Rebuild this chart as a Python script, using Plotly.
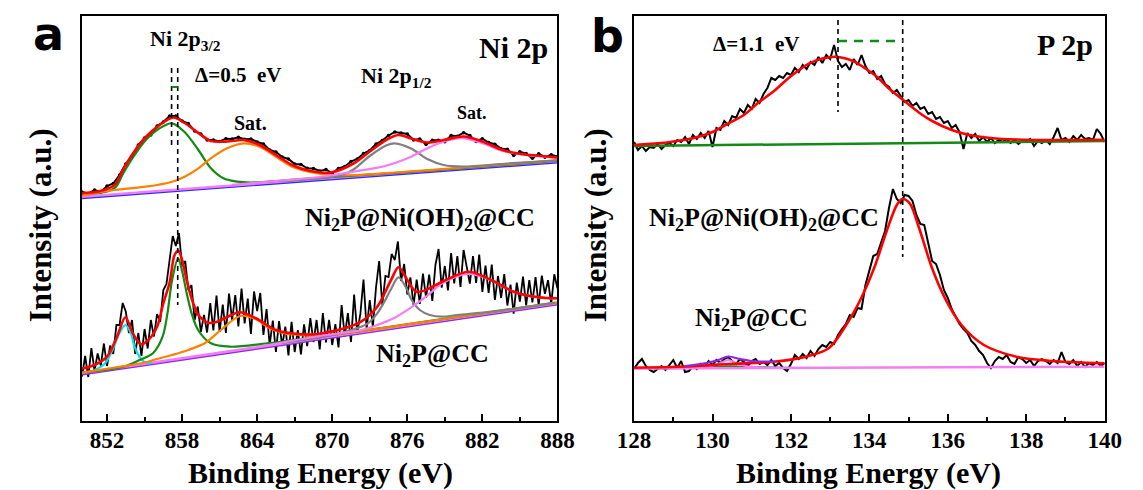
import plotly.graph_objects as go

W, H = 1143, 490
SERIF = "Liberation Serif, Times New Roman, serif"
SANS = "DejaVu Sans, Lato, sans-serif"

# ---------------- Panel a : Ni 2p ----------------
# upper spectrum (Ni2P@Ni(OH)2@CC), raw counts every 0.5 eV from 850 eV
a_up_start, a_up_step = 850.0, 0.5
a_up_data = [229, 227.5, 231, 229, 235, 237.5, 246, 257, 265, 276,
             283, 286, 295, 299, 305, 305, 300, 297.5, 290, 287,
             281, 281, 279.5, 282.3, 282, 283.7, 281.8, 282, 279, 277,
             271, 269, 264, 262, 257, 256.5, 252.7, 252.5, 250, 251.5,
             247.6, 252.5, 254.5, 259.5, 262, 267.5, 270.5, 277, 280.5, 285.5,
             289, 288, 287, 281, 282, 276.5, 280.7, 280.8, 279.2, 285.5,
             284.7, 288.3, 285.5, 279.5, 282.3, 278.5, 276.8, 272.3, 271.8, 265.5,
             269.2, 267.4, 262.7, 267.2, 263.8, 266.2, 264.6]
a_up_env_E = [850, 851.3, 852.6, 853.3, 854.1, 855.1, 856.2, 857.3, 858.2, 859.3, 860.3,
              861.6, 862.9, 864.2, 865.5, 866.8, 868.1, 869.9, 871.7, 873.0, 874.3,
              875.3, 876.3, 877.6, 878.9, 880.5, 882.0, 883.6, 885.1, 886.7, 888]
a_up_env = [228, 229.5, 236, 252, 268, 284, 296, 303.5, 298, 288, 280,
            279.5, 281, 276, 266, 256, 250.5, 248.5, 257.5, 269.5, 281,
            286, 282.5, 278.5, 281, 284.5, 279.5, 271, 267, 265, 263.5]
a_up_p32_E = [850, 851, 852, 852.7, 853.3, 854.1, 855.1, 856.2, 857.2, 858.2, 859.3,
              860.3, 861.3, 862.4, 863.5, 866, 870, 875, 880, 888]
a_up_p32 = [226, 227.5, 229.5, 234, 247.7, 264, 281, 292.7, 297.7, 289, 271,
            252.7, 242.7, 239.3, 238.5, 240.5, 244, 248, 252.5, 260.3]
a_up_sat1_E = [850, 852.6, 855.1, 857.2, 858.2, 859.3, 860.3, 861.6, 862.9, 864.2,
               865.5, 866.8, 868.1, 869.9, 872, 875, 880, 888]
a_up_sat1 = [225.5, 231, 234.3, 239.3, 244.3, 252.7, 262.7, 272.7, 277.7, 274.3,
             264.3, 254.3, 249.3, 246, 246, 248.5, 253, 260.8]
a_up_p12_E = [866, 868, 870, 871, 871.7, 873, 874.3, 875.0, 876.3, 877.6, 878.9, 880.5, 884, 888]
a_up_p12 = [239.5, 241.5, 244, 247, 251.5, 265, 275.5, 277.7, 272.5, 262, 256, 254.5, 257.5, 260.5]
a_up_sat2_E = [862, 866, 869, 871.7, 874.3, 876.3, 877.6, 878.9, 880.5, 882.0, 883.6, 885.1, 886.7, 888]
a_up_sat2 = [236.2, 240.5, 244, 249.3, 255.3, 264.3, 272.7, 279.3, 282.7, 277.7, 270.3, 266.7, 264.7, 263.3]
a_up_bg_E = [850, 888]
a_up_bg = [224.3, 260]

# lower spectrum (Ni2P@CC), raw counts every 0.25 eV from 850 eV
a_lo_start, a_lo_step = 850.0, 0.25
a_lo_data = [44.5, 65, 44, 73, 50, 67.5, 55.5, 77.5, 55, 75.5,
             67, 96, 96, 118, 109.5, 88, 101, 67, 88, 65,
             92, 72.5, 101, 84.5, 107, 99, 131, 137, 161, 185,
             175, 188, 155, 160, 131, 136, 101, 114.5, 89, 106,
             88.5, 118, 90.5, 125.5, 89, 116.5, 88, 127.5, 101, 126,
             94.5, 132.5, 97.5, 122.5, 87, 129.5, 110, 128, 86, 112,
             76, 100.5, 69, 100, 75, 94.3, 65.7, 99.2, 69, 90.8,
             66.7, 96.7, 74.8, 102.9, 79, 101, 71.5, 108, 78.6, 101.2,
             76, 96.8, 73.5, 116, 84.7, 107.8, 79, 126.5, 88, 107.3,
             141.5, 92, 121, 94, 133.5, 160, 116, 145, 144, 167,
             161, 179.5, 140, 157, 126.5, 143.5, 115.5, 141.3, 117, 147.5,
             123, 146.5, 120, 156, 172, 133.3, 155, 130.5, 168, 137.5,
             165, 134, 171, 155.3, 137.3, 165, 138, 166.5, 129, 155.5,
             128, 156.5, 121, 145, 123, 147, 115.5, 136.3, 107.3, 138.3,
             119.3, 144.5, 115.7, 141, 118.5, 144, 115.7, 145.4, 127.1, 140.9,
             116.8, 146.7, 132.7]
a_lo_env_E = [850, 851.0, 852.0, 852.8, 853.47, 854.06, 854.7, 855.3, 856.0, 856.5, 857.0,
              857.4, 857.7, 858.0, 858.4, 858.8, 859.3, 860.1, 860.8, 861.6, 862.6, 863.9,
              865.5, 867.5, 868.8, 871.0, 872.3, 873.6, 874.7, 875.3, 876.0, 876.7, 877.5,
              878.8, 880.9, 882.7, 884.5, 886.5, 888]
a_lo_env = [52.5, 56, 64.3, 84.3, 103.7, 87.7, 76.7, 81, 94.3, 117.7, 138.3,
            166, 170.3, 161, 139.3, 121, 106, 98.3, 99.3, 104, 108.7, 102.7,
            91, 86.7, 87, 92.7, 99.3, 114.3, 141, 153.7, 141, 129.3, 131,
            139.3, 149.3, 141, 129.3, 123.7, 122.7]
a_lo_met_E = [851.0, 851.8, 852.55, 853.0, 853.47, 853.9, 854.2, 854.6, 855.0, 855.6]
a_lo_met = [51, 57, 74.3, 88, 96, 88, 74.3, 64, 59, 58.5]
a_lo_p32_E = [850, 853.3, 854.6, 855.67, 856.44, 856.83, 857.2, 857.68, 858.0, 858.37,
              858.76, 859.28, 860.3, 861.85, 865, 870, 875, 880, 888]
a_lo_p32 = [48.5, 54.3, 61, 67.7, 84.3, 107.7, 141, 162.7, 150, 127.7,
            107.7, 91, 77.7, 74.3, 78, 86, 95, 104, 118.5]
a_lo_sat1_E = [850, 855.0, 855.7, 857.2, 858.5, 859.8, 861.1, 862.64, 863.9, 865.0,
               866.2, 867.5, 868.8, 872, 880, 888]
a_lo_sat1 = [48.5, 58.5, 61, 66, 71, 77.7, 91, 105, 101.7, 92.7,
             87.7, 86, 85, 89.5, 104, 118.5]
a_lo_p12_E = [866, 869, 871.04, 872.3, 872.85, 873.6, 874.1, 874.66, 875.3, 875.96,
              876.3, 877.0, 877.8, 878.8, 880, 882.7, 885.3, 887.8]
a_lo_p12 = [78, 83.5, 89.3, 94.3, 97.7, 107.7, 117.7, 131, 143.7, 132,
            122, 111, 106, 104.3, 106, 109.3, 113.7, 118.3]
a_lo_sat2_E = [864, 866, 869, 872.3, 873.6, 874.9, 876.2, 877.5, 878.8, 880.86,
               882.7, 884.5, 886.5, 888]
a_lo_sat2 = [74, 78.5, 85, 91, 96, 102.7, 112.7, 124.3, 137.7, 147,
             141, 129.3, 123.7, 122.7]
a_lo_bg_E = [850, 888]
a_lo_bg = [48, 118]

a_peak_E = [857.16, 857.65]   # Ni 2p3/2 positions (shift 0.5 eV)

# ---------------- Panel b : P 2p ----------------
b_start, b_step = 128.0, 0.1
b_up_data = [279, 271, 275, 270, 274, 273, 277, 272, 276, 278,
             275, 281, 279, 284, 277, 286, 282, 288, 283, 290,
             274, 293, 291, 300, 296, 305, 303, 312, 308, 316,
             312, 322, 318, 327, 333, 343, 341, 345, 343, 348,
             346, 353, 349, 356, 352, 359, 356, 364, 358, 366,
             362, 376, 360, 354, 357, 351, 362, 356, 366, 355,
             348, 350, 342, 345, 337, 334, 328, 331, 325, 319,
             321, 315, 318, 312, 314, 307, 309, 302, 304, 298,
             300, 293, 296, 289, 272, 288, 283, 287, 280, 284,
             279, 283, 278, 281, 279, 282, 278, 281, 277, 280,
             279, 282, 275, 280, 278, 281, 277, 284, 293, 281,
             283, 279, 285, 281, 286, 282, 283, 281, 292, 287,
             279]
b_up_env_E = [128, 128.7, 129.0, 129.5, 130.0, 130.33, 130.8, 131.15, 131.6, 131.98,
              132.47, 132.8, 133.13, 133.4, 133.62, 133.9, 134.2, 134.45, 134.86, 135.27,
              135.6, 136.1, 136.5, 136.92, 137.3, 138.16, 139, 140]
b_up_env = [276, 278, 279.5, 282.7, 289, 296, 306, 317.7, 331, 344.3,
            357.7, 362.5, 364.3, 362.5, 359.3, 352.5, 344, 334.3, 321, 308.3,
            300, 291, 286.5, 283.7, 282.3, 281, 281, 281.3]
b_up_bg_E = [128, 140]
b_up_bg = [275, 280]

b_lo_data = [52, 58, 62, 55, 51, 49, 52, 55, 51, 56,
             61, 53, 60, 49, 50, 55, 52, 57, 54, 60,
             56, 61, 58, 62, 64, 60, 57, 62, 59, 55,
             60, 62, 57, 59, 56, 61, 55, 58, 53, 50,
             57, 66, 62, 67, 63, 70, 65, 72, 76, 74,
             79, 77, 86, 92, 97, 106, 104, 113, 112, 136,
             150, 165, 167, 178, 190, 213, 232, 222, 218, 226,
             225, 220, 206, 197, 196, 178, 160, 157, 146, 131,
             123, 112, 104, 97, 92, 88, 80, 76, 70, 66,
             58, 53, 60, 64, 62, 66, 59, 57, 64, 62,
             58, 61, 55, 60, 62, 60, 57, 61, 58, 69,
             59, 57, 61, 55, 59, 54, 58, 56, 59, 55,
             58]
b_lo_env_E = [128, 129.5, 130.4, 131.56, 132.39, 132.96, 133.46, 133.79, 134.12, 134.45,
              134.7, 134.84, 135.03, 135.27, 135.6, 135.93, 136.35, 136.92, 137.75, 138.57, 140]
b_lo_env = [53.3, 54.8, 57, 59.3, 64.3, 72.7, 99.3, 122.7, 152.7, 191,
            216, 222, 217.7, 192.7, 152.7, 122.7, 96, 76, 64.3, 60.3, 57.7]
b_lo_sum_E = [129.3, 129.9, 130.15, 130.4, 130.7, 131.0, 131.3, 131.6]
b_lo_sum = [54.8, 58.5, 61, 64.5, 62, 60, 59.5, 59.5]
b_lo_c1_E = [129.5, 129.95, 130.2, 130.4, 130.6, 130.85, 131.3]
b_lo_c1 = [53.2, 55, 58, 61, 58, 55, 53.5]
b_lo_c2_E = [128.5, 129.3, 129.9, 130.4, 130.9, 131.5, 132.2]
b_lo_c2 = [52.7, 53.2, 54, 54.6, 54, 53.3, 53]
b_lo_bg_E = [128, 140]
b_lo_bg = [52.5, 54.3]

b_peak_E = [133.2, 134.85]   # P 2p positions (shift 1.1 eV)

# ---------------- colours ----------------
RED, GREEN, ORANGE, GREY = "#ff0000", "#138a13", "#ff8000", "#808080"
PINK, CYAN, BLUE, PURPLE = "#f47cf4", "#00e3ef", "#2a2aff", "#8a2be2"

fig = go.Figure()


def line(x, y, color, width, xa="x", ya="y", shape="spline", dash=None, mode="lines", msize=0):
    fig.add_trace(go.Scatter(
        x=x, y=y, mode=mode, xaxis=xa, yaxis=ya, hoverinfo="skip",
        line=dict(color=color, width=width, shape=shape, smoothing=0.9, dash=dash),
        marker=dict(size=msize, color=color)))


def grid(start, step, n):
    return [round(start + step * i, 3) for i in range(n)]


# ---- panel a, upper ----
line(grid(a_up_start, a_up_step, len(a_up_data)), a_up_data, "black", 2, shape="linear",
     mode="lines+markers", msize=3.5)
line(a_up_bg_E, [v - 1.2 for v in a_up_bg], BLUE, 2.5, shape="linear")
line(a_up_bg_E, a_up_bg, PINK, 2.5, shape="linear")
line(a_up_p32_E, a_up_p32, GREEN, 2.2)
line(a_up_sat1_E, a_up_sat1, ORANGE, 2.2)
line(a_up_p12_E, a_up_p12, GREY, 2.2)
line(a_up_sat2_E, a_up_sat2, PINK, 2.2)
line(a_up_env_E, a_up_env, RED, 2.6)

# ---- panel a, lower ----
line(grid(a_lo_start, a_lo_step, len(a_lo_data)), a_lo_data, "black", 1.8, shape="linear")
line(a_lo_bg_E, [v - 1.3 for v in a_lo_bg], PURPLE, 2.5, shape="linear")
line(a_lo_bg_E, a_lo_bg, PINK, 2.5, shape="linear")
line(a_lo_met_E, a_lo_met, CYAN, 2.2)
line(a_lo_p32_E, a_lo_p32, GREEN, 2.2)
line(a_lo_sat1_E, a_lo_sat1, ORANGE, 2.2)
line(a_lo_p12_E, a_lo_p12, GREY, 2.2)
line(a_lo_sat2_E, a_lo_sat2, PINK, 2.2)
line(a_lo_env_E, a_lo_env, RED, 2.6)

# ---- panel a, peak markers ----
line([a_peak_E[0], a_peak_E[0]], [353, 273], "black", 1.6, shape="linear", dash="5px,4px")
line([a_peak_E[1], a_peak_E[1]], [353, 116], "black", 1.6, shape="linear", dash="5px,4px")
line(a_peak_E, [334, 334], GREEN, 2, shape="linear")

# ---- panel b, upper ----
line(grid(b_start, b_step, len(b_up_data)), b_up_data, "black", 2, "x2", "y2", shape="linear")
line(b_up_bg_E, b_up_bg, GREEN, 2.5, "x2", "y2", shape="linear")
line(b_up_env_E, b_up_env, RED, 2.6, "x2", "y2")

# ---- panel b, lower ----
line(grid(b_start, b_step, len(b_lo_data)), b_lo_data, "black", 2, "x2", "y2", shape="linear")
line(b_lo_c2_E, b_lo_c2, GREEN, 2.2, "x2", "y2")
line(b_lo_bg_E, b_lo_bg, PINK, 2.5, "x2", "y2", shape="linear")
line(b_lo_c1_E, b_lo_c1, PINK, 2.2, "x2", "y2")
line(b_lo_env_E, b_lo_env, RED, 2.6, "x2", "y2")
line(b_lo_sum_E, b_lo_sum, PURPLE, 2.2, "x2", "y2")

# ---- panel b, peak markers ----
line([b_peak_E[0], b_peak_E[0]], [401, 309], "black", 1.6, "x2", "y2", shape="linear", dash="5px,4px")
line([b_peak_E[1], b_peak_E[1]], [401, 164], "black", 1.6, "x2", "y2", shape="linear", dash="5px,4px")
line(b_peak_E, [380, 380], GREEN, 2.6, "x2", "y2", shape="linear", dash="9px,7px")

# ---------------- axes ----------------
tickfont = dict(family=SERIF, size=23, color="black", weight="bold")
common_x = dict(ticks="inside", ticklen=7, tickwidth=2, tickcolor="black",
                showline=True, linewidth=2, linecolor="black", mirror=True,
                showgrid=False, zeroline=False, tickfont=tickfont, tickmode="linear",
                ticklabelstandoff=-3)
common_y = dict(range=[0, 405], domain=[1 - 421 / H, 1 - 16 / H], showticklabels=False,
                ticks="", showline=True, linewidth=2, linecolor="black", mirror=True,
                showgrid=False, zeroline=False)

fig.update_layout(
    width=W, height=H, margin=dict(l=0, r=0, t=0, b=0),
    paper_bgcolor="white", plot_bgcolor="white", showlegend=False,
    xaxis=dict(common_x, range=[850, 888], domain=[67 / W, 557 / W], tick0=852, dtick=6,
               minor=dict(tick0=849, dtick=3, ticks="inside", ticklen=4, tickwidth=1.5,
                          tickcolor="black"), anchor="y"),
    yaxis=dict(common_y, anchor="x"),
    xaxis2=dict(common_x, range=[128, 140], domain=[636 / W, 1121 / W], tick0=128, dtick=2,
                minor=dict(tick0=129, dtick=1, ticks="inside", ticklen=4, tickwidth=1.5,
                           tickcolor="black"), anchor="y2"),
    yaxis2=dict(common_y, anchor="x2"),
)


def note(text, px, py, size, family=SERIF, angle=0):
    fig.add_annotation(text=text, x=px / W, y=1 - py / H, xref="paper", yref="paper",
                       showarrow=False, xanchor="center", yanchor="middle", textangle=angle,
                       font=dict(family=family, size=size, color="black", weight="bold"))


note("a", 32, 34, 46, SANS)
note("b", 609, 36, 46, SANS)
note("Ni 2p<sub>3/2</sub>", 174, 40, 22)
note("Δ=0.5\u00a0 eV", 228, 75, 21)
note("Sat.", 241, 123, 20)
note("Ni 2p<sub>1/2</sub>", 391, 77, 22)
note("Sat.", 469, 113, 18)
note("Ni 2p", 512, 47, 30)
note("Ni<sub>2</sub>P@Ni(OH)<sub>2</sub>@CC", 415, 219, 26)
note("Ni<sub>2</sub>P@CC", 428, 355, 26)
note("Δ=1.1\u00a0 eV", 762, 44, 21)
note("P 2p", 1080, 45, 30)
note("Ni<sub>2</sub>P@Ni(OH)<sub>2</sub>@CC", 770, 219, 26)
note("Ni<sub>2</sub>P@CC", 757, 319, 26)
note("Intensity (a.u.)", 25, 225, 31, angle=-90)
note("Intensity (a.u.)", 597, 225, 31, angle=-90)
note("Binding Energy (eV)", 313, 473, 30)
note("Binding Energy (eV)", 878, 473, 30)

fig.write_html("out.html", config={"displayModeBar": False},
               post_script="document.body.style.margin='0';document.body.style.overflow='hidden';")
